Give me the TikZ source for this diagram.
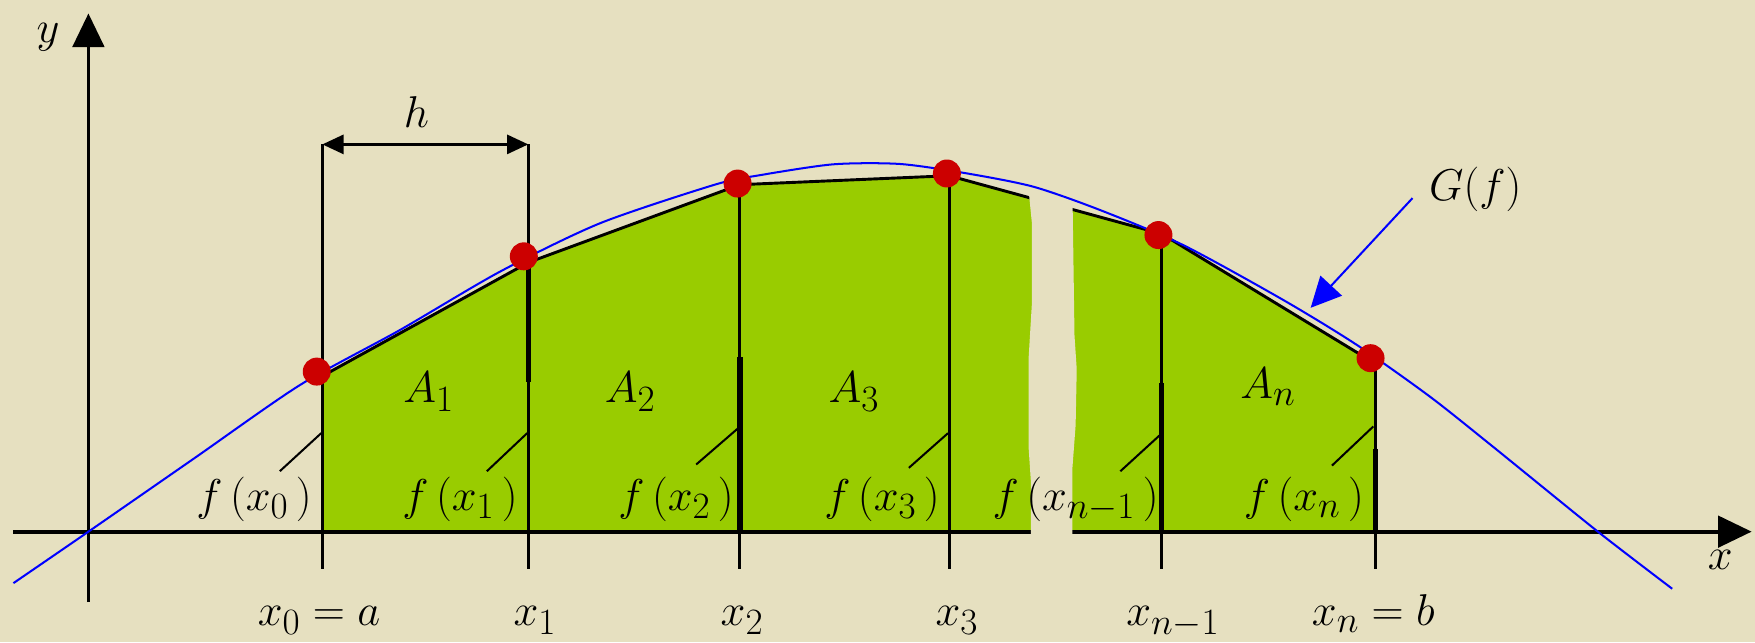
\documentclass[tikz,border=0pt]{standalone}
\usetikzlibrary{arrows.meta}
\definecolor{paper}{RGB}{230,224,192}
\definecolor{leaf}{RGB}{153,204,0}
\definecolor{dotred}{RGB}{204,0,0}
\definecolor{gblue}{RGB}{0,0,255}
\newcommand{\bigtxt}[1]{\scalebox{1.6}{\Huge #1}}
\begin{document}
\begin{tikzpicture}[x=1pt,y=-1pt,
  lbl/.style={inner sep=0pt, anchor=base},
  vthin/.style={line width=2.6pt},
  vthick/.style={line width=4.8pt},
  chord/.style={line width=2.6pt},
  ptr/.style={line width=1.8pt},
  axisline/.style={line width=3.4pt, -{Triangle[length=30pt,width=28pt]}},
  dimline/.style={line width=2.6pt, {Triangle[length=19pt,width=17pt]}-{Triangle[length=19pt,width=17pt]}},
  curve/.style={gblue, line width=1.8pt},
  dot/.style={circle, fill=dotred, minimum size=25pt, inner sep=0pt},
]
\fill[paper] (0,0) rectangle (1568,573.6);
\useasboundingbox (0,0) rectangle (1568,573.6);

% grid points
\foreach \i/\xx/\yy in {0/288/336,1/472/234.5,2/661/165,3/848/157,4/1038/209,5/1229/325}{
  \coordinate (t\i) at (\xx,\yy);
  \coordinate (b\i) at (\xx,475);
  \coordinate (e\i) at (\xx,508);
}

% green area under the chords
\fill[leaf] (b0) -- (t0) -- (t1) -- (t2) -- (t3) -- (t4) -- (t5) -- (b5) -- cycle;
\draw[chord] (t0) -- (t1) -- (t2) -- (t3) -- (t4) -- (t5);

% axes
\coordinate (xl) at (12,475);
\coordinate (xr) at (1565,475);
\coordinate (yb) at (79,538);
\coordinate (yt) at (79,12);
\draw[axisline] (xl) -- (xr);
\draw[axisline] (yb) -- (yt);

% dimension h
\coordinate (h0) at (288,129);
\coordinate (h1) at (472,129);
\draw[vthin] (h0) -- (e0);
\draw[vthin] (h1) -- (e1);
\draw[dimline] (h0) -- (h1);
\foreach \i in {2,3,4,5}{ \draw[vthin] (t\i) -- (e\i); }
\draw[vthick] (472,234) -- (472,341);
\draw[vthick] (661,319) -- (b2);
\draw[vthick] (1038,342) -- (b4);
\draw[vthick] (1229,401) -- (b5);

% torn gap
\fill[paper] (918,160) -- (922,200) -- (922,270) -- (919,320) -- (919,400) -- (921,430) -- (921,479)
  -- (958,479) -- (958,420) -- (961,380) -- (962,330) -- (960,300) -- (958,160) -- cycle;

% labels
\node[lbl] (ylab) at (43,38) {\bigtxt{$y$}};
\node[lbl] (xlab) at (1537,509) {\bigtxt{$x$}};
\node[lbl] (hlab) at (372,114) {\bigtxt{$h$}};
\node[lbl] (Glab) at (1318,179) {\bigtxt{$G(f)$}};
\node[lbl] (A1) at (383,360) {\bigtxt{$A_1$}};
\node[lbl] (A2) at (563,360) {\bigtxt{$A_2$}};
\node[lbl] (A3) at (763,360) {\bigtxt{$A_3$}};
\node[lbl] (An) at (1133,356) {\bigtxt{$A_n$}};
\node[lbl] (f0) at (227,456) {\bigtxt{$f\,(x_0\,)$}};
\node[lbl] (f1) at (411,456) {\bigtxt{$f\,(x_1\,)$}};
\node[lbl] (f2) at (604,456) {\bigtxt{$f\,(x_2\,)$}};
\node[lbl] (f3) at (788,456) {\bigtxt{$f\,(x_3\,)$}};
\node[lbl] (f4) at (961,456) {\bigtxt{$f\,(x_{n-1}\,)$}};
\node[lbl] (f5) at (1165,456) {\bigtxt{$f\,(x_n\,)$}};
\node[lbl] (x0) at (285,559) {\bigtxt{$x_0=a$}};
\node[lbl] (x1) at (478,559) {\bigtxt{$x_1$}};
\node[lbl] (x2) at (663,559) {\bigtxt{$x_2$}};
\node[lbl] (x3) at (855,559) {\bigtxt{$x_3$}};
\node[lbl] (x4) at (1048,559) {\bigtxt{$x_{n-1}$}};
\node[lbl] (x5) at (1227,559) {\bigtxt{$x_n=b$}};

% pointers from f-labels to ordinates
\foreach \i/\ax/\ay/\bx/\by in {0/250/421/287/387, 1/435/421/471/387, 2/622/415/659/383,
  3/812/418/847/387, 4/1001/421/1036/389, 5/1190/416/1227/381}{
  \coordinate (pa\i) at (\ax,\ay);
  \coordinate (pb\i) at (\bx,\by);
  \draw[ptr] (pa\i) -- (pb\i);
}

% graph of f
\draw[curve] plot[smooth, tension=0.45] coordinates {(12,521) (79,475) (173.5,409.5) (268,344)
  (357.4,294.8) (446.7,242.7) (536,199.5) (638.6,165) (679.6,156.4) (744.6,146.8) (804,146.5)
  (863.7,154.9) (923.2,166.8) (982.7,187.6) (1057,218.9) (1146.5,268) (1212,308) (1277.6,354.4)
  (1335,400) (1427.6,475) (1494,526)};

% nodes on the graph
\node[dot] (d0) at (283,332) {};
\node[dot] (d1) at (468,229) {};
\node[dot] (d2) at (659,164) {};
\node[dot] (d3) at (846,155) {};
\node[dot] (d4) at (1035,210) {};
\node[dot] (d5) at (1224.5,320) {};

% pointer to G(f)
\coordinate (gs) at (1262,177);
\coordinate (gt) at (1171,275);
\draw[gblue, line width=1.8pt, -{Triangle[length=27pt,width=26pt]}] (gs) -- (gt);
\end{tikzpicture}
\end{document}
